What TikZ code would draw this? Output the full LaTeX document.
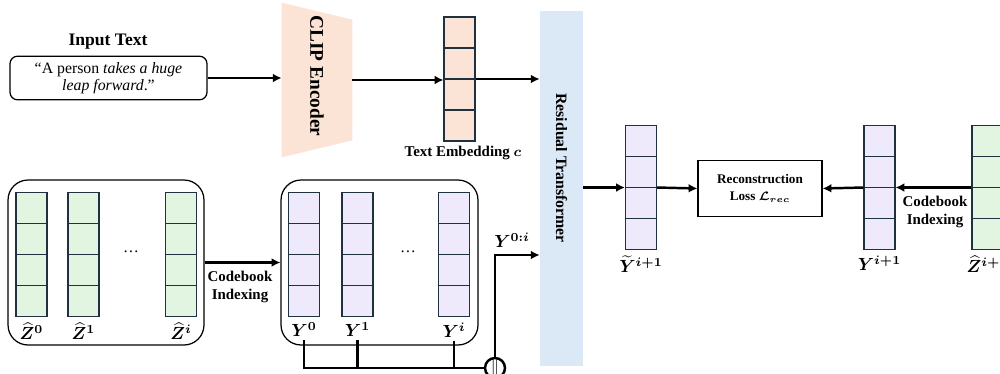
\documentclass[tikz,border=0pt]{standalone}
\usepackage{fontspec}
\setmainfont{Liberation Serif}
\usepackage{amsmath}
\usepackage{xcolor}
\usepackage{tikz}
\usetikzlibrary{arrows.meta,calc,positioning}
\definecolor{cellgreen}{RGB}{226,245,224}
\definecolor{celllav}{RGB}{238,234,251}
\definecolor{cellpeach}{RGB}{251,228,214}
\definecolor{transblue}{RGB}{219,232,246}
\definecolor{celledge}{RGB}{31,48,64}

\tikzset{
  tokcol/.style={draw=celledge, line width=0.6pt, minimum width=0.62cm, minimum height=2.48cm, inner sep=0pt,
    path picture={\foreach \k in {1,2,3}
      \draw[celledge, line width=0.6pt]
        ($(path picture bounding box.north west)!\k/4!(path picture bounding box.south west)$) --
        ($(path picture bounding box.north east)!\k/4!(path picture bounding box.south east)$);}},
  grpbox/.style={draw, line width=0.7pt, rounded corners=0.4cm, minimum height=3.3cm},
  collab/.style={font=\fontsize{10}{11}\selectfont, inner sep=0.5pt},
  boldlab/.style={font=\fontsize{8.5}{10.5}\selectfont\bfseries, align=center, inner sep=1pt},
  arr/.style={line width=1.4pt, -{Latex[length=5pt,width=5pt]}},
  wire/.style={line width=1.4pt}
}

\begin{document}
\begin{tikzpicture}[x=0.02cm, y=-0.02cm]
\useasboundingbox (0,0) rectangle (1000,373);
\clip (0,0) rectangle (1000,373);

% text branch
\node[font=\fontsize{10}{12}\selectfont\bfseries] (intitle) at (108,42) {Input Text};
\node[draw, line width=0.7pt, rounded corners=0.15cm, minimum width=3.94cm, minimum height=0.84cm,
  align=center, font=\fontsize{9}{10}\selectfont] (inbox) at (108.5,78)
  {“A person \textit{takes a huge}\\\textit{leap forward}.”};
\node[minimum width=1.4cm, minimum height=3.08cm, inner sep=0pt] (clip) at (317,80) {};
\fill[cellpeach] (clip.north west) -- (clip.south west) -- ($(clip.south east)+(0,-17)$)
  -- ($(clip.north east)+(0,17)$) -- cycle;
\node[rotate=-90, font=\fontsize{11}{13}\selectfont\bfseries] (cliptext) at (317,76) {CLIP Encoder};
\node[tokcol, fill=cellpeach] (emb) at (459.5,79) {};
\node[boldlab] (emblab) at (463,153) {Text Embedding $\boldsymbol{c}$};

\node[fill=transblue, minimum width=0.86cm, minimum height=7.1cm, inner sep=0pt] (res) at (561.5,188.5) {};
\node[rotate=-90, font=\fontsize{9}{11}\selectfont\bfseries] (restext) at (561.5,168) {Residual Transformer};

\draw[arr] (inbox.east) -- (inbox.east -| clip.west);
\draw[arr] (clip.east) -- (clip.east -| emb.west);
\draw[arr] (emb.east) -- (emb.east -| res.west);

% motion token branch
\node[grpbox, minimum width=3.92cm] (zgroup) at (106,262.5) {};
\node[grpbox, minimum width=3.94cm] (ygroup) at (379.5,262.5) {};
\node[tokcol, fill=cellgreen] (zc0) at (31.5,254.5) {};
\node[tokcol, fill=cellgreen] (zc1) at (83.5,254.5) {};
\node[tokcol, fill=cellgreen] (zci) at (181,254.5) {};
\node[font=\fontsize{9}{10}\selectfont] (zdots) at (131,252) {\dots};
\node[tokcol, fill=celllav] (y0) at (304,254.5) {};
\node[tokcol, fill=celllav] (y1) at (357.5,254.5) {};
\node[tokcol, fill=celllav] (yi) at (454,254.5) {};
\node[font=\fontsize{9}{10}\selectfont] (ydots) at (408,252) {\dots};

\node[collab, below=2.5pt of zc0] (zc0lab) {$\boldsymbol{\widehat{Z}^{0}}$};
\node[collab, below=2.5pt of zc1] (zc1lab) {$\boldsymbol{\widehat{Z}^{1}}$};
\node[collab, below=2.5pt of zci] (zcilab) {$\boldsymbol{\widehat{Z}^{i}}$};
\node[collab, below=2.5pt of y0] (y0lab) {$\boldsymbol{Y^{0}}$};
\node[collab, below=2.5pt of y1] (y1lab) {$\boldsymbol{Y^{1}}$};
\node[collab, below=2.5pt of yi] (yilab) {$\boldsymbol{Y^{i}}$};

\draw[arr] (zgroup.east) -- (ygroup.west);
\node[boldlab] (cbl) at (240,287) {Codebook\\Indexing};

% concatenation
\node[circle, draw, line width=1.4pt, fill=white, minimum size=0.4cm, inner sep=0pt,
  font=\fontsize{9}{10}\selectfont] (cat) at (495,368) {$\|$};
\draw[wire] ([yshift=-1pt]y0lab.south) |- (cat.west);
\draw[wire] ([yshift=-1pt]y1lab.south) -- (y1lab.south |- cat.west);
\draw[wire] ([yshift=-1pt]yilab.south) -- (yilab.south |- cat.west);
\coordinate (catup) at (495,255);
\draw[arr] (cat.north) |- (catup -| res.west);
\node[collab] (y0ilab) at (512,240) {$\boldsymbol{Y^{0:i}}$};

% output side
\node[tokcol, fill=celllav] (ytil) at (641,187.5) {};
\node[tokcol, fill=celllav] (ynext) at (879.5,187.5) {};
\node[tokcol, fill=cellgreen] (znext) at (987.5,187.5) {};
\node[collab, below=2.5pt of ytil] (ytillab) {$\boldsymbol{\widetilde{Y}^{i+1}}$};
\node[collab, below=2.5pt of ynext] (ynextlab) {$\boldsymbol{Y^{i+1}}$};
\node[collab, below=2.5pt of znext] (znextlab) {$\boldsymbol{\widehat{Z}^{i+1}}$};
\node[draw, line width=0.7pt, minimum width=2.48cm, minimum height=1.12cm,
  font=\fontsize{7.5}{10}\selectfont\bfseries, align=center] (recon) at (760,188.5)
  {Reconstruction\\Loss $\boldsymbol{\mathcal{L}_{rec}}$};

\draw[arr] (res.east |- ytil.west) -- (ytil.west);
\draw[arr] (ytil.east) -- (recon.west);
\draw[arr] (ynext.west) -- (recon.east);
\draw[arr] (znext.west) -- (ynext.east);
\node[boldlab] (cbr) at (935,212) {Codebook\\Indexing};
\end{tikzpicture}
\end{document}
